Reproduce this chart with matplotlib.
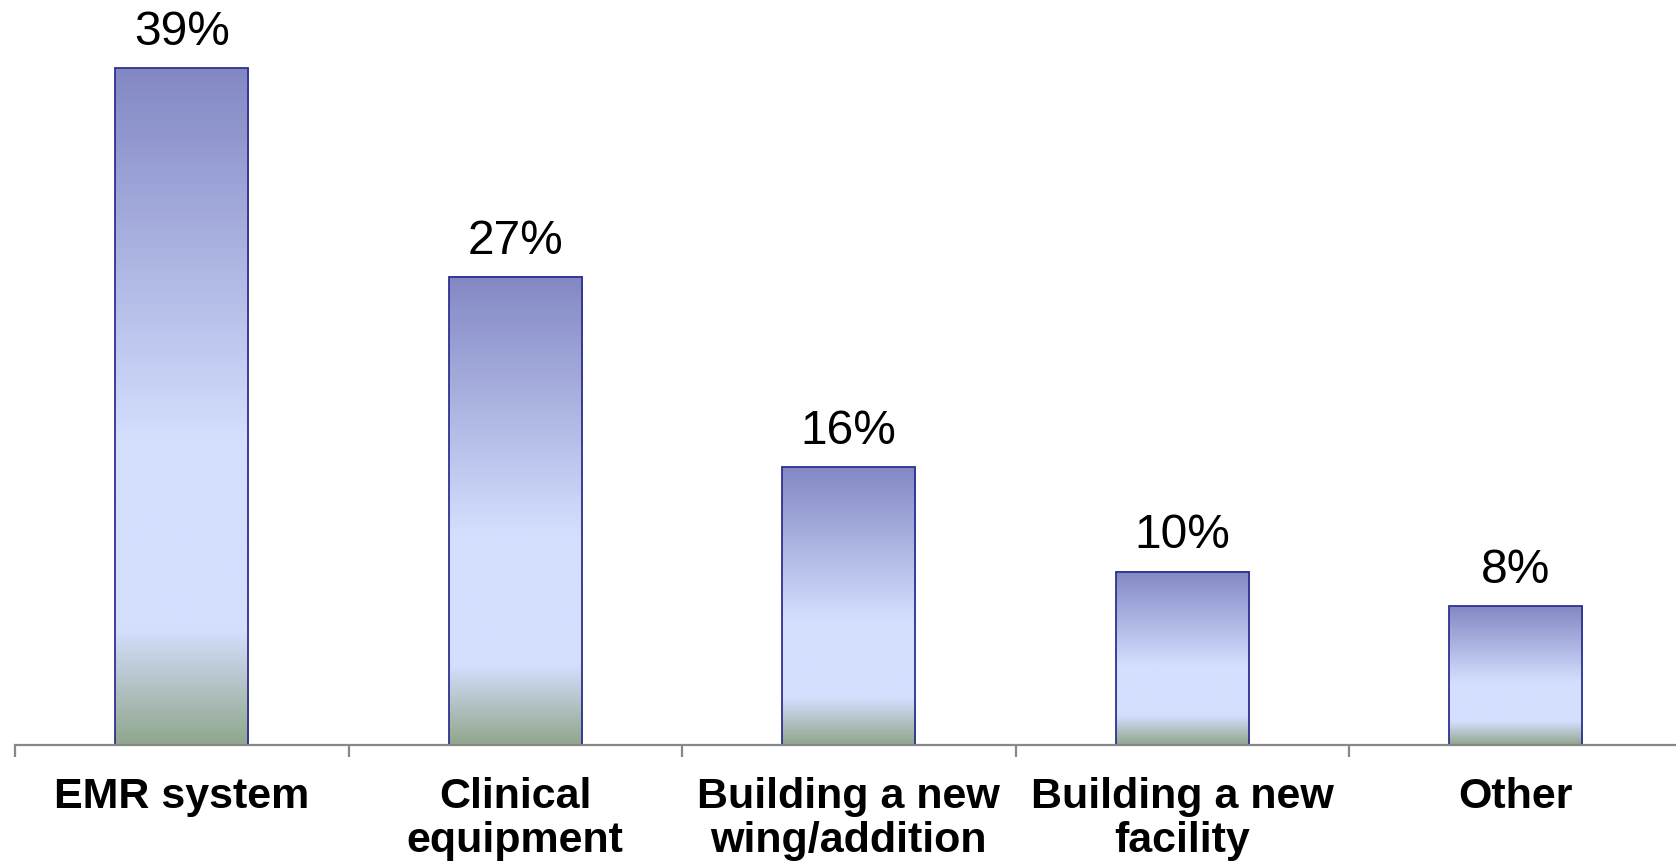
import matplotlib
matplotlib.use("Agg")
import matplotlib.pyplot as plt
import numpy as np
from matplotlib.colors import LinearSegmentedColormap

categories = ["EMR system", "Clinical\nequipment", "Building a new\nwing/addition",
              "Building a new\nfacility", "Other"]
values = [39, 27, 16, 10, 8]
value_labels = ["39%", "27%", "16%", "10%", "8%"]

plt.rcParams["font.family"] = ["Liberation Sans", "DejaVu Sans"]

# vertical fill per bar: dark lavender top, pale blue middle, grey-green base
bar_cmap = LinearSegmentedColormap.from_list(
    "bar_fill",
    [(0.0, "#8388c4"), (0.55, "#d4dffe"), (0.83, "#d4dffe"), (1.0, "#90a68c")],
)
gradient = np.linspace(0, 1, 256).reshape(-1, 1)

fig = plt.figure(figsize=(16.76, 8.68), dpi=100)
ax = fig.add_axes([15 / 1676, 123 / 868, 1667.5 / 1676, 42 * 17.35 / 868])

x = np.arange(len(categories))
bars = ax.bar(x, values, width=0.4, facecolor="none", edgecolor="#2e3190",
              linewidth=1.3, zorder=3)
for rect, label in zip(bars, value_labels):
    bx, by = rect.get_x(), rect.get_y()
    bw, bh = rect.get_width(), rect.get_height()
    ax.imshow(gradient, cmap=bar_cmap, aspect="auto", origin="upper",
              extent=(bx, bx + bw, by, by + bh), zorder=2, interpolation="bicubic")
    ax.text(bx + bw / 2, by + bh + 0.75, label, ha="center", va="bottom",
            fontsize=34.5, color="black")

ax.set_xlim(-0.5, len(categories) - 0.5)
ax.set_ylim(0, 42)

for side in ("left", "right", "top"):
    ax.spines[side].set_visible(False)
ax.spines["bottom"].set_color("#888888")
ax.spines["bottom"].set_linewidth(1.6)
ax.spines["bottom"].set_zorder(4)

ax.set_yticks([])
ax.set_xticks(x)
ax.set_xticklabels(categories, fontsize=31, fontweight="bold", linespacing=1.12)
ax.tick_params(axis="x", which="major", length=0, pad=23)
ax.set_xticks(np.arange(-0.5, len(categories)), minor=True)
ax.tick_params(axis="x", which="minor", length=8.5, width=1.6, color="#888888",
               direction="out")

fig.savefig("out.png", dpi=100)
